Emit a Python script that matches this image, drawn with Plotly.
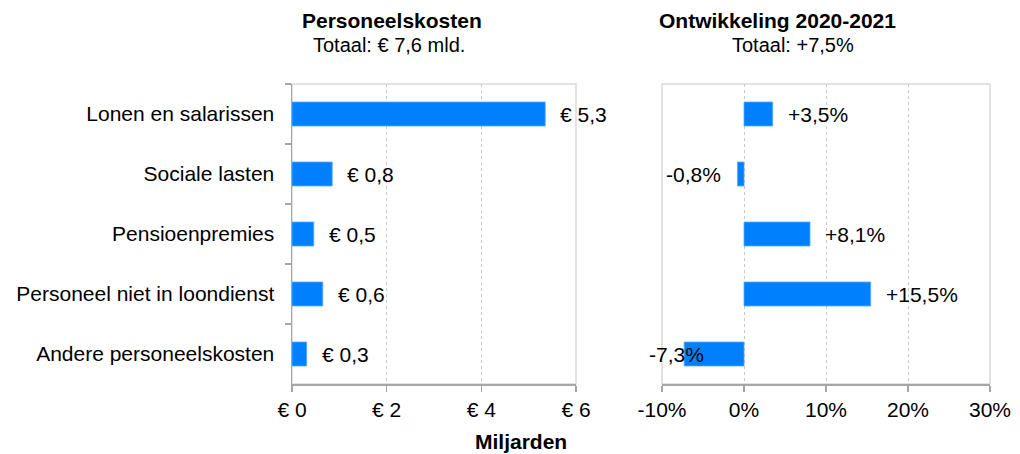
import plotly.graph_objects as go

categories = ["Lonen en salarissen", "Sociale lasten", "Pensioenpremies",
              "Personeel niet in loondienst", "Andere personeelskosten"]
kosten = [5.35, 0.85, 0.46, 0.65, 0.31]          # € miljard
kosten_labels = ["€ 5,3", "€ 0,8", "€ 0,5", "€ 0,6", "€ 0,3"]
ontwikkeling = [3.5, -0.8, 8.05, 15.45, -7.3]    # %
ontw_labels = ["+3,5%", "-0,8%", "+8,1%", "+15,5%", "-7,3%"]
left_ticks = [0, 2, 4, 6]
left_ticktext = ["€ 0", "€ 2", "€ 4", "€ 6"]
right_ticks = [-10, 0, 10, 20, 30]
right_ticktext = ["-10%", "0%", "10%", "20%", "30%"]

BLUE = "#0080ff"
FONT = "Liberation Sans, Arial, sans-serif"
AXIS = "#a6a6a6"
FRAME = "#d9d9d9"
GRID = "#c8c8c8"

# the page body margin is removed (post_script) so the figure fills the window exactly
W, H = 1020, 454


def px(x):
    return x / W


def py(y):
    return 1 - y / H


fig = go.Figure()
fig.add_trace(go.Bar(y=categories, x=kosten, orientation="h", width=0.4,
                     marker=dict(color=BLUE, line=dict(color="#55aaff", width=0.8)),
                     xaxis="x", yaxis="y", showlegend=False, hoverinfo="skip"))
fig.add_trace(go.Bar(y=categories, x=ontwikkeling, orientation="h", width=0.4,
                     marker=dict(color=BLUE, line=dict(color="#55aaff", width=0.8)),
                     xaxis="x2", yaxis="y2", showlegend=False, hoverinfo="skip"))

LBL = dict(size=21, color="black", family=FONT)
annotations = []
for c, v, t in zip(categories, kosten, kosten_labels):
    annotations.append(dict(x=v, y=c, xref="x", yref="y", text=t, showarrow=False,
                            xanchor="left", xshift=13, font=LBL))
for c, v, t in zip(categories, ontwikkeling, ontw_labels):
    if v >= 0:
        annotations.append(dict(x=v, y=c, xref="x2", yref="y2", text=t, showarrow=False,
                                xanchor="left", xshift=13, font=LBL))
    elif v > -5:
        annotations.append(dict(x=v, y=c, xref="x2", yref="y2", text=t, showarrow=False,
                                xanchor="right", xshift=-14, font=LBL))
    else:
        annotations.append(dict(x=right_ticks[0], y=c, xref="x2", yref="y2", text=t, showarrow=False,
                                xanchor="left", xshift=-15, font=LBL))

TF = dict(size=21, color="black", family=FONT)
SF = dict(size=20, color="black", family=FONT)
annotations += [
    dict(x=px(392), y=py(20), xref="paper", yref="paper", text="<b>Personeelskosten</b>",
         showarrow=False, xanchor="center", yanchor="middle", font=TF),
    dict(x=px(389), y=py(45), xref="paper", yref="paper", text="Totaal: € 7,6 mld.",
         showarrow=False, xanchor="center", yanchor="middle", font=SF),
    dict(x=px(777), y=py(20), xref="paper", yref="paper", text="<b>Ontwikkeling 2020-2021</b>",
         showarrow=False, xanchor="center", yanchor="middle", font=TF),
    dict(x=px(793), y=py(45), xref="paper", yref="paper", text="Totaal: +7,5%",
         showarrow=False, xanchor="center", yanchor="middle", font=SF),
    dict(x=px(521), y=py(441), xref="paper", yref="paper", text="<b>Miljarden</b>",
         showarrow=False, xanchor="center", yanchor="middle", font=TF),
]

shapes = []
for xr, yr in (("x", "y"), ("x2", "y2")):
    shapes.append(dict(type="rect", xref=f"{xr} domain", yref=f"{yr} domain", x0=0, x1=1, y0=0, y1=1,
                       line=dict(color=FRAME, width=1.5), fillcolor="rgba(0,0,0,0)", layer="below"))

ydom = [py(384), py(84)]
fig.update_layout(
    width=W, height=H, margin=dict(l=0, r=0, t=0, b=0, autoexpand=False),
    plot_bgcolor="white", paper_bgcolor="white",
    font=dict(family=FONT, size=21, color="black"),
    xaxis=dict(domain=[px(292), px(576)], range=[0, 6], tickvals=left_ticks, ticktext=left_ticktext,
               showgrid=True, gridcolor=GRID, griddash="dot", gridwidth=1, zeroline=False,
               showline=True, linecolor=AXIS, linewidth=1.5, ticks="outside", ticklen=6,
               tickcolor=AXIS, tickwidth=1.5, tickfont=dict(size=21), anchor="y", automargin=False),
    yaxis=dict(domain=ydom, autorange="reversed", showline=True, linecolor=AXIS, linewidth=1.5,
               ticks="outside", tickson="boundaries", ticklen=6, tickcolor=AXIS, tickwidth=1.5,
               showgrid=False, tickfont=dict(size=21), ticklabelstandoff=12, anchor="x", automargin=False),
    xaxis2=dict(domain=[px(662), px(990)], range=[-10, 30], tickvals=right_ticks, ticktext=right_ticktext,
                showgrid=True, gridcolor=GRID, griddash="dot", gridwidth=1, zeroline=False,
                showline=True, linecolor=AXIS, linewidth=1.5, ticks="outside", ticklen=6,
                tickcolor=AXIS, tickwidth=1.5, tickfont=dict(size=21), anchor="y2", automargin=False),
    yaxis2=dict(domain=ydom, autorange="reversed", showline=False, showticklabels=False,
                showgrid=False, ticks="", anchor="x2", automargin=False),
    annotations=annotations, shapes=shapes,
)

fig.write_html("out.html", config=dict(displayModeBar=False, staticPlot=True),
               post_script="document.body.style.margin='0';")
